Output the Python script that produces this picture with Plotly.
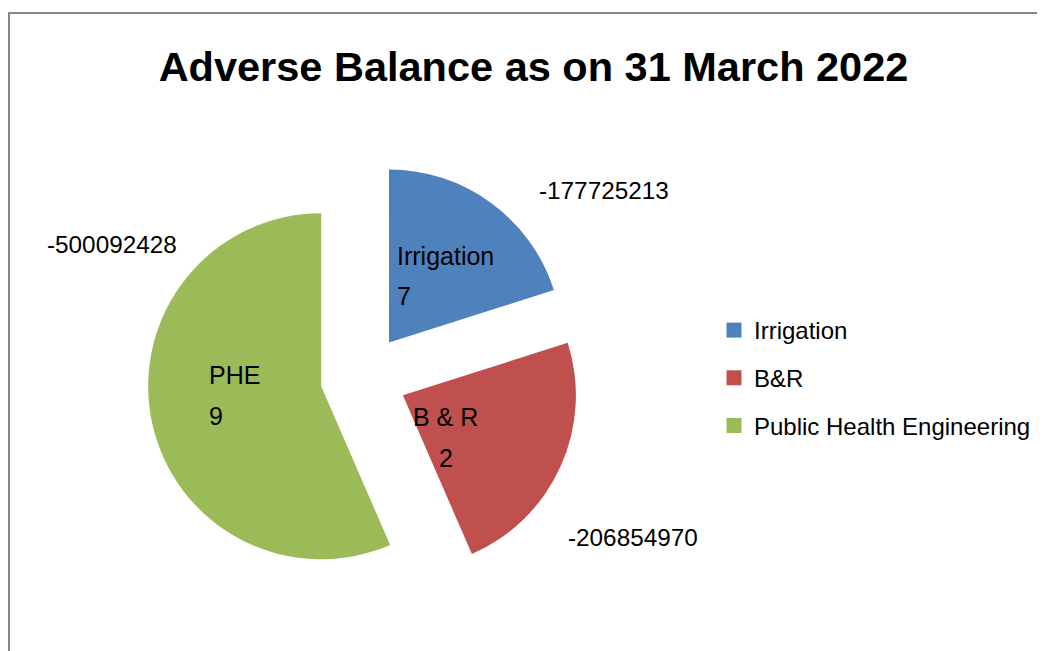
import plotly.graph_objects as go

# ---- data ----
categories = ["Irrigation", "B&R", "Public Health Engineering"]
slice_labels = ["Irrigation", "B & R", "PHE"]
counts = [7, 2, 9]
balances = [-177725213, -206854970, -500092428]
colors = ["#4F81BD", "#C0504D", "#9BBB59"]
title_text = "Adverse Balance as on 31 March 2022"

W, H = 1045, 651
OFF = 8  # page body margin
FONT = "Liberation Sans, Arial, sans-serif"

def px(x):
    return (x - OFF) / W

def py(y):
    return 1 - (y - OFF) / H

fig = go.Figure()

# pie (magnitudes of the adverse balances)
fig.add_trace(go.Pie(
    labels=categories,
    values=[abs(v) for v in balances],
    marker=dict(colors=colors, line=dict(width=0)),
    sort=False,
    direction="clockwise",
    rotation=0,
    pull=[0.25, 0.25, 0.25],
    textinfo="none",
    showlegend=False,
    domain=dict(x=[px(147.25), px(579.75)], y=[py(593.75), py(161.25)]),
))

# legend entries
for i, (name, c) in enumerate(zip(categories, colors)):
    fig.add_trace(go.Scatter(
        x=[None], y=[None], mode="markers", name=name,
        marker=dict(symbol="square", size=15, color=c),
        legendgroup=f"g{i}", showlegend=True,
    ))

# label placements (layout only)
inside_pos = [  # (x, y_name, y_count, xanchor)
    (395, 255.5, 296, "left"),
    (445.5, 416.5, 458, "center"),
    (207, 375, 415.5, "left"),
]
outside_pos = [(603.5, 190.5), (632.5, 537), (111.5, 245)]

annotations = []
for lab, cnt, (x, y1, y2, xa) in zip(slice_labels, counts, inside_pos):
    annotations.append(dict(text=lab, x=px(x), y=py(y1), xref="paper", yref="paper",
                            xanchor=xa, yanchor="middle", showarrow=False,
                            font=dict(family=FONT, size=25, color="black")))
    annotations.append(dict(text=str(cnt), x=px(x), y=py(y2), xref="paper", yref="paper",
                            xanchor=xa, yanchor="middle", showarrow=False,
                            font=dict(family=FONT, size=25, color="black")))
for val, (x, y) in zip(balances, outside_pos):
    annotations.append(dict(text=str(val), x=px(x), y=py(y), xref="paper", yref="paper",
                            xanchor="center", yanchor="middle", showarrow=False,
                            font=dict(family=FONT, size=24.3, color="black")))

fig.update_layout(
    width=W, height=H,
    margin=dict(l=0, r=0, t=0, b=0),
    paper_bgcolor="white", plot_bgcolor="white",
    title=dict(text=f"<b>{title_text}</b>", x=px(533.5), xanchor="center",
               y=py(66), yanchor="middle", yref="container",
               font=dict(family=FONT, size=41.5, color="black")),
    xaxis=dict(visible=False), yaxis=dict(visible=False),
    legend=dict(x=px(714), y=py(308), xanchor="left", yanchor="top",
                font=dict(family=FONT, size=24, color="black"),
                tracegroupgap=13.5, bgcolor="rgba(0,0,0,0)", itemsizing="trace"),
    annotations=annotations,
    shapes=[dict(type="rect", xref="paper", yref="paper",
                 x0=px(9), y0=-0.05, x1=1.05, y1=py(13),
                 line=dict(color="#878787", width=2), fillcolor="rgba(0,0,0,0)")],
    showlegend=True,
)

fig.write_html("out.html")
